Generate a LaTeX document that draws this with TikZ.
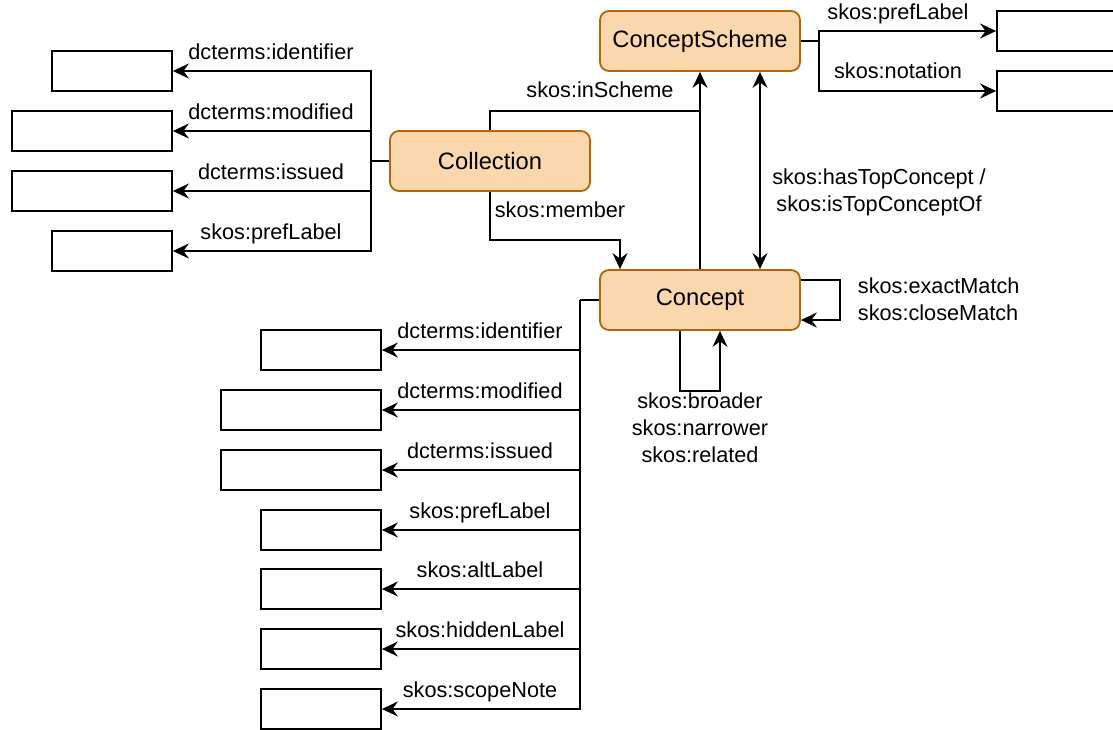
\documentclass[tikz,border=0pt]{standalone}
\usepackage{fontspec}
\setmainfont{Liberation Sans}
\usetikzlibrary{arrows.meta}
\definecolor{nodefill}{HTML}{FAD7AC}
\definecolor{nodeline}{HTML}{B46504}
\begin{document}
\begin{tikzpicture}[x=1pt,y=-1pt, line width=1.8pt,
 obj/.style={draw=nodeline, fill=nodefill, rounded corners=9pt, minimum width=200pt, minimum height=60pt, inner sep=0pt, font=\fontsize{23.7}{28}\selectfont},
 leaf/.style={draw=black, fill=white, minimum height=40pt, inner sep=0pt},
 lbl/.style={font=\fontsize{21.7}{27}\selectfont, inner sep=0pt, anchor=base},
 arr/.style={-{Stealth[length=16pt,width=15pt,inset=5.5pt]}},
 arrtwo/.style={{Stealth[length=16pt,width=15pt,inset=5.5pt]}-{Stealth[length=16pt,width=15pt,inset=5.5pt]}}]
\useasboundingbox (0,0) rectangle (1113,729);
\clip (0,0) rectangle (1113,729);

% main nodes
\node[obj] (col) at (490,161) {Collection};
\node[obj] (cs) at (700,41) {ConceptScheme};
\node[obj] (con) at (700,300) {Concept};

% collection attribute boxes
\node[leaf, minimum width=120pt] (a1) at (112,71) {};
\node[leaf, minimum width=160pt] (a2) at (92,131) {};
\node[leaf, minimum width=160pt] (a3) at (92,191) {};
\node[leaf, minimum width=120pt] (a4) at (112,251) {};

% concept attribute boxes
\node[leaf, minimum width=120pt] (b1) at (321,350) {};
\node[leaf, minimum width=160pt] (b2) at (301,410) {};
\node[leaf, minimum width=160pt] (b3) at (301,470) {};
\node[leaf, minimum width=120pt] (b4) at (321,530) {};
\node[leaf, minimum width=120pt] (b5) at (321,589) {};
\node[leaf, minimum width=120pt] (b6) at (321,649) {};
\node[leaf, minimum width=120pt] (b7) at (321,709) {};

% concept scheme attribute boxes
\node[leaf, minimum width=120pt] (c1) at (1057,31) {};
\node[leaf, minimum width=120pt] (c2) at (1057,91) {};

% junctions
\coordinate (j1) at (371,161);
\coordinate (j2) at (580,300);
\coordinate (j3) at (819,41);
\coordinate (m1) at (700,111);
\coordinate (m2) at (620,240);

% collection attributes
\draw (col.west) -- (j1);
\draw[arr] (j1) |- (a1.east);
\draw[arr] (j1) |- (a2.east);
\draw[arr] (j1) |- (a3.east);
\draw[arr] (j1) |- (a4.east);

% concept attributes
\draw (con.west) -- (j2);
\draw[arr] (j2) |- (b1.east);
\draw[arr] (j2) |- (b2.east);
\draw[arr] (j2) |- (b3.east);
\draw[arr] (j2) |- (b4.east);
\draw[arr] (j2) |- (b5.east);
\draw[arr] (j2) |- (b6.east);
\draw[arr] (j2) |- (b7.east);

% concept scheme attributes
\draw (cs.east) -- (j3);
\draw[arr] (j3) |- (c1.west);
\draw[arr] (j3) |- (c2.west);

% inScheme
\draw (con.north) -- (m1);
\draw[arr] (col.north) |- (m1) -- (cs.south);

% member
\draw[arr] (col.south) |- (m2) -- (m2 |- con.north);

% top concept
\draw[arrtwo] ([xshift=60pt]cs.south) -- ([xshift=60pt]con.north);

% self loops
\draw[arr] ([yshift=20pt]con.east) -- ++(39,0) -- ++(0,40) -- ([yshift=-20pt]con.east);
\draw[arr] ([xshift=-20pt]con.south) -- ++(0,60) -- ++(40,0) -- ([xshift=20pt]con.south);

% labels
\node[lbl] (la1) at (271,59) {dcterms:identifier};
\node[lbl] (la2) at (271,119) {dcterms:modified};
\node[lbl] (la3) at (271,179) {dcterms:issued};
\node[lbl] (la4) at (271,239) {skos:prefLabel};

\node[lbl] (lb1) at (480,338) {dcterms:identifier};
\node[lbl] (lb2) at (480,398) {dcterms:modified};
\node[lbl] (lb3) at (480,458) {dcterms:issued};
\node[lbl] (lb4) at (480,518) {skos:prefLabel};
\node[lbl] (lb5) at (480,577) {skos:altLabel};
\node[lbl] (lb6) at (480,637) {skos:hiddenLabel};
\node[lbl] (lb7) at (480,697) {skos:scopeNote};

\node[lbl] (lc1) at (898,19) {skos:prefLabel};
\node[lbl] (lc2) at (898,78) {skos:notation};

\node[lbl] (lin) at (600,97) {skos:inScheme};
\node[lbl] (lmem) at (560,217) {skos:member};

\node[lbl, align=center] (ltop) at (879,211) {skos:hasTopConcept /\\skos:isTopConceptOf};
\node[lbl, align=left, anchor=base west] (lmatch) at (857,320) {skos:exactMatch\\skos:closeMatch};
\node[lbl, align=center] (lbr) at (700,462) {skos:broader\\skos:narrower\\skos:related};
\end{tikzpicture}
\end{document}
